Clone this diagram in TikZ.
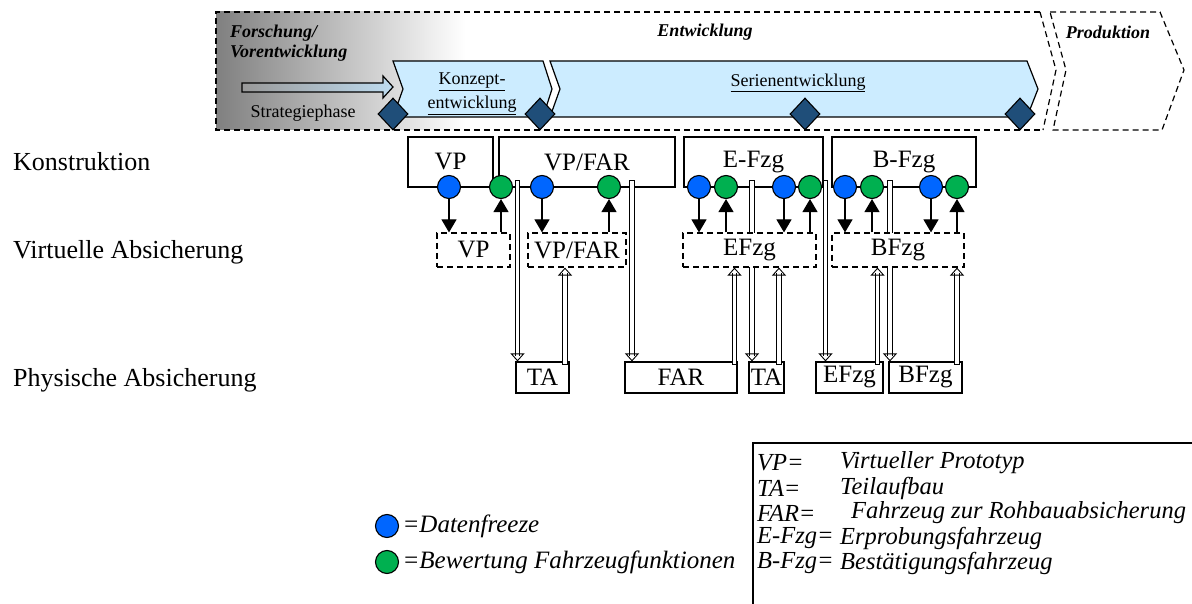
\documentclass[tikz,border=0pt]{standalone}
\usepackage{fontspec}
\setmainfont{Liberation Serif}
\usetikzlibrary{arrows.meta,shapes.geometric}
\definecolor{cblue}{HTML}{0066FF}
\definecolor{cgreen}{HTML}{00B050}
\definecolor{dia}{HTML}{1F4E79}
\definecolor{chevfill}{HTML}{CCECFF}
\definecolor{stratblue}{HTML}{BEDCF0}
\begin{document}
\begin{tikzpicture}[x=1pt,y=-1pt,
  big/.style={font=\fontsize{25}{30}\selectfont},
  rowlab/.style={font=\fontsize{26}{30}\selectfont, anchor=west, inner sep=0pt},
  bigit/.style={font=\fontsize{25}{30}\selectfont\itshape},
  legit/.style={font=\fontsize{24.5}{30}\selectfont\itshape, anchor=west, inner sep=0pt},
  sm/.style={font=\fontsize{18}{24}\selectfont},
  bi/.style={font=\fontsize{18}{20}\selectfont\bfseries\itshape},
  dsh/.style={dash pattern=on 6pt off 4pt, line width=1.2pt},
  kbox/.style={draw, line width=1.2pt, big, minimum height=50pt, inner sep=0pt},
  vbox/.style={draw, dsh, fill=white, big, minimum height=34pt, inner sep=0pt},
  pbox/.style={draw, line width=1.2pt, fill=white, big, minimum height=31pt, inner sep=0pt},
  dot/.style={circle, draw, line width=1.1pt, minimum size=23pt, inner sep=0pt},
  bdot/.style={dot, fill=cblue},
  gdot/.style={dot, fill=cgreen},
  gate/.style={diamond, draw, line width=1.1pt, fill=dia, minimum width=30pt, minimum height=32pt, inner sep=0pt},
  chevst/.style={draw, line width=1.2pt, fill=chevfill},
  blk/.style={-{Triangle[length=13pt,width=15pt]}, line width=1.2pt},
  hollow/.style={line width=0.9pt, double=white, double distance=3.8pt, line cap=rect},
  harrow/.style={hollow, -{Triangle[open,length=8pt,width=14pt]}}
]
\useasboundingbox (0,0) rectangle (1192,604);

% ---------- banner ----------
\fill[left color=black!50, right color=white] (216,12) rectangle (465,130);
\draw[dsh] (1040,12) -- (216,12) -- (216,130) -- (1043,130);
\draw[dsh] (1040,12) -- (1056,70) -- (1043,130);
\draw[dsh] (1050,12) -- (1160,12) -- (1184,70) -- (1162,130) -- (1053,130) -- (1066,70) -- cycle;

\draw[line width=1.2pt, left color=black!40, right color=stratblue]
  (242,83) -- (383,83) -- (383,76) -- (393,87) -- (383,98) -- (383,92) -- (242,92) -- cycle;

\draw[chevst] (393,61) -- (543,61) -- (552,89) -- (543,117) -- (393,117) -- (403,89) -- cycle;
\draw[chevst] (550,61) -- (1027,61) -- (1038,89) -- (1027,117) -- (550,117) -- (560,89) -- cycle;

\node[bi, anchor=west, inner sep=0pt] (fo) at (230,33) {Forschung/};
\node[bi, anchor=west, inner sep=0pt] (ve) at (230,53) {Vorentwicklung};
\node[bi] (ent) at (705,32) {Entwicklung};
\node[bi] (pro) at (1108,32) {Produktion};
\node[sm] (str) at (303,113) {Strategiephase};
\node[sm, align=center] (kon) at (472,94) {\underline{Konzept-}\\\underline{entwicklung}};
\node[sm] (ser) at (798,83) {\underline{Serienentwicklung}};

\node[gate] (d1) at (393,114) {};
\node[gate] (d2) at (540,114) {};
\node[gate] (d3) at (805,114) {};
\node[gate] (d4) at (1020,114) {};

% ---------- row labels ----------
\node[rowlab] (lk) at (13,162) {Konstruktion};
\node[rowlab] (lv) at (13,252) {Virtuelle Absicherung};
\node[rowlab] (lp) at (13,380) {Physische Absicherung};

% ---------- Konstruktion boxes ----------
\node[kbox, minimum width=85pt] (kvp) at (450.5,162) {VP};
\node[kbox, minimum width=176pt] (kvf) at (587,162) {VP/FAR};
\node[kbox, minimum width=139pt] (kef) at (753.5,162) {E-Fzg};
\node[kbox, minimum width=144pt] (kbf) at (904,162) {B-Fzg};

% ---------- physical boxes ----------
\node[pbox, minimum width=53pt] (pta) at (542.5,377.5) {TA};
\node[pbox, minimum width=112pt] (pfar) at (681,377.5) {FAR};
\node[pbox, minimum width=35pt] (ptb) at (766.5,377.5) {TA};
\node[pbox, minimum width=67pt] (pef) at (849.5,377.5) {EFzg};
\node[pbox, minimum width=73pt] (pbf) at (925.5,377.5) {BFzg};

% ---------- down bars (drawn behind virtual boxes) ----------
\coordinate (s1) at (517.5,183);
\coordinate (s2) at (632,183);
\coordinate (s3) at (752,183);
\coordinate (s4) at (825.5,183);
\coordinate (s5) at (890,183);
\draw[harrow] (s1) -- (s1 |- pta.north);
\draw[harrow] (s2) -- (s2 |- pfar.north);
\draw[harrow] (s3) -- (s3 |- ptb.north);
\draw[harrow] (s4) -- (s4 |- pef.north);
\draw[harrow] (s5) -- (s5 |- pbf.north);

% ---------- virtual boxes ----------
\node[vbox, minimum width=73pt] (vvp) at (473.5,250) {VP};
\node[vbox, minimum width=98pt] (vvf) at (577,250) {VP/FAR};
\node[vbox, minimum width=133pt] (vef) at (749.5,250) {EFzg};
\node[vbox, minimum width=132pt] (vbf) at (898,250) {BFzg};

% ---------- up bars ----------
\coordinate (u1) at (565,362);
\coordinate (u2) at (734.5,362);
\coordinate (u3) at (779,362);
\coordinate (u4) at (877.5,362);
\coordinate (u5) at (957,362);
\draw[harrow] (u1) -- (u1 |- vvf.south);
\draw[harrow] (u2) -- (u2 |- vef.south);
\draw[harrow] (u3) -- (u3 |- vef.south);
\draw[harrow] (u4) -- (u4 |- vbf.south);
\draw[harrow] (u5) -- (u5 |- vbf.south);

% ---------- circles ----------
\node[bdot] (b1) at (449,187) {};
\node[gdot] (g1) at (501,187) {};
\node[bdot] (b2) at (542,187) {};
\node[gdot] (g2) at (609,187) {};
\node[bdot] (b3) at (699,187) {};
\node[gdot] (g3) at (726,187) {};
\node[bdot] (b4) at (784,187) {};
\node[gdot] (g4) at (810,187) {};
\node[bdot] (b5) at (845,187) {};
\node[gdot] (g5) at (872,187) {};
\node[bdot] (b6) at (931,187) {};
\node[gdot] (g6) at (957,187) {};

% ---------- black arrows ----------
\draw[blk] (b1.south) -- (b1.south |- vvp.north);
\draw[blk] (g1.south |- vvp.north) -- (g1.south);
\draw[blk] (b2.south) -- (b2.south |- vvf.north);
\draw[blk] (g2.south |- vvf.north) -- (g2.south);
\draw[blk] (b3.south) -- (b3.south |- vef.north);
\draw[blk] (g3.south |- vef.north) -- (g3.south);
\draw[blk] (b4.south) -- (b4.south |- vef.north);
\draw[blk] (g4.south |- vef.north) -- (g4.south);
\draw[blk] (b5.south) -- (b5.south |- vbf.north);
\draw[blk] (g5.south |- vbf.north) -- (g5.south);
\draw[blk] (b6.south) -- (b6.south |- vbf.north);
\draw[blk] (g6.south |- vbf.north) -- (g6.south);

% ---------- legend ----------
\node[bdot] (lb) at (387,526) {};
\node[bigit, anchor=west] (lbt) at (lb.east) {=Datenfreeze};
\node[gdot] (lg) at (387,562) {};
\node[bigit, anchor=west] (lgt) at (lg.east) {=Bewertung Fahrzeugfunktionen};

\draw[line width=1.3pt] (753,610) -- (753,443) -- (1195,443);
\node[legit] (a1) at (757,463) {VP=};
\node[legit] (a2) at (757,488) {TA=};
\node[legit] (a3) at (757,513) {FAR=};
\node[legit] (a4) at (757,538) {E-Fzg=};
\node[legit] (a5) at (757,563) {B-Fzg=};
\node[legit] (c1) at (840,463) {Virtueller Prototyp};
\node[legit] (c2) at (840,488) {Teilaufbau};
\node[legit] (c3) at (851,513) {Fahrzeug zur Rohbauabsicherung};
\node[legit] (c4) at (840,538) {Erprobungsfahrzeug};
\node[legit] (c5) at (840,563) {Bestätigungsfahrzeug};
\end{tikzpicture}
\end{document}
